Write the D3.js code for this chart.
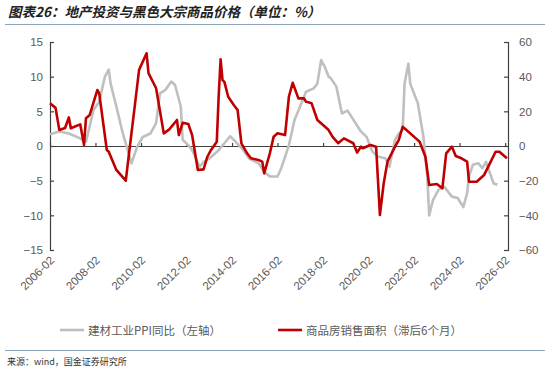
<!DOCTYPE html>
<html>
<head>
<meta charset="utf-8">
<script src="https://cdn.jsdelivr.net/npm/d3@7/dist/d3.min.js"></script>
<style>
  body { margin: 0; background: #fff; }
  svg { display: block; }
</style>
</head>
<body>
<svg id="chart" width="550" height="371"></svg>
<script>
// grey: 建材工业PPI同比 (left axis)
const ppiDates = ['2006-02','2006-07','2006-12','2007-06','2007-09','2008-01','2008-04','2008-07','2008-09','2008-10',
  '2009-01','2009-04','2009-07','2009-09','2009-12','2010-03','2010-07','2010-10','2010-12','2011-03',
  '2011-06','2011-08','2011-11','2011-12','2012-03','2012-05','2012-09','2012-11','2013-02','2013-07',
  '2013-10','2014-01','2014-04','2014-08','2014-11','2015-04','2015-07','2015-10','2016-02','2016-04',
  '2016-08','2016-11','2017-03','2017-05','2017-09','2017-11','2018-01','2018-03','2018-05','2018-06',
  '2018-09','2018-12','2019-03','2019-06','2019-10','2020-01','2020-04','2020-07','2020-11','2021-01',
  '2021-04','2021-06','2021-08','2021-09','2021-11','2021-12','2022-03','2022-04','2022-07','2022-09',
  '2022-10','2022-12','2023-03','2023-06','2023-10','2024-01','2024-04','2024-06','2024-07','2024-09',
  '2024-12','2025-02','2025-04','2025-06','2025-08','2025-10'];
const ppiValues = [1.7, 2.1, 1.8, 1.1, 0.6, 5.2, 6.4, 10.0, 11.0, 9.0,
  5.7, 2.3, -0.6, -2.5, -0.1, 1.3, 1.8, 3.3, 7.6, 8.1,
  9.3, 8.8, 5.7, 0.9, 0.1, -0.6, -3.0, -2.3, -1.8, -0.6,
  0.4, 1.4, 0.6, -0.6, -1.8, -2.5, -3.7, -4.4, -4.4, -3.2,
  0.1, 3.8, 6.4, 7.8, 8.3, 9.0, 12.4, 11.4, 10.0, 9.8,
  8.6, 4.7, 5.1, 3.8, 2.1, 1.3, -0.8, -1.5, -1.8, -3.0,
  0.9, 1.8, 2.3, 9.0, 11.9, 9.0, 6.9, 6.2, 1.3, -4.4,
  -10.0, -7.8, -6.3, -5.9, -7.3, -7.5, -8.8, -6.8, -4.4, -2.7,
  -2.5, -3.2, -2.3, -3.9, -5.4, -5.6];

// red: 商品房销售面积 (lagged 6 months, right axis)
const salesDates = ['2006-02','2006-05','2006-07','2006-10','2006-12','2007-01','2007-06','2007-08','2007-09','2007-11',
  '2008-03','2008-04','2008-08','2008-09','2009-01','2009-06','2009-11','2010-01','2010-05','2010-06',
  '2010-10','2011-02','2011-05','2011-09','2011-10','2011-12','2012-03','2012-05','2012-08','2012-11',
  '2013-01','2013-03','2013-06','2013-07','2013-08','2013-09','2013-10','2013-12','2014-03','2014-05',
  '2014-07','2014-10','2014-12','2015-04','2015-06','2015-07','2015-10','2015-12','2016-02','2016-06',
  '2016-08','2016-10','2017-01','2017-04','2017-05','2017-08','2017-11','2018-02','2018-05','2018-07',
  '2018-10','2019-01','2019-06','2019-08','2019-10','2019-11','2020-03','2020-06','2020-08','2020-10',
  '2020-12','2021-04','2021-06','2021-08','2021-10','2022-03','2022-05','2022-08','2022-10','2023-02',
  '2023-05','2023-07','2023-10','2023-12','2024-03','2024-06','2024-07','2024-11','2025-03','2025-06',
  '2025-09','2025-11','2026-03'];
const salesValues = [24.6, 22.0, 9.2, 10.4, 16.5, 10.2, 12.5, 0.6, 16.0, 17.9,
  32.3, 30.4, -2.3, -3.3, -13.8, -20.0, 25.6, 43.9, 53.5, 42.0,
  33.3, 7.3, 9.6, 15.0, 6.3, 13.4, 12.7, 6.3, -13.8, -13.5,
  -6.2, -2.3, 2.5, 28.4, 50.0, 38.0, 37.0, 28.4, 23.7, 20.8,
  1.5, -4.2, -7.1, -8.1, -9.0, -15.8, -4.2, 5.4, 7.3, 6.3,
  28.4, 36.5, 27.5, 27.5, 25.6, 24.6, 15.0, 12.1, 9.2, 5.4,
  1.6, 4.4, 1.6, -3.8, -0.4, -1.3, 0.6, -0.4, -39.8, -21.5,
  -9.0, -0.4, 3.5, 11.1, 9.2, 4.4, 2.5, -6.2, -22.5, -21.9,
  -24.4, -4.2, -0.4, -5.8, -7.1, -9.0, -20.6, -20.6, -16.7, -10.0,
  -3.3, -3.3, -7.1];

const leftTicks = [-15, -10, -5, 0, 5, 10, 15];
const rightTicks = [-60, -40, -20, 0, 20, 40, 60];
const xTickLabels = ['2006-02','2008-02','2010-02','2012-02','2014-02','2016-02',
  '2018-02','2020-02','2022-02','2024-02','2026-02'];

const parse = d3.timeParse('%Y-%m');
const fmtNum = d => d < 0 ? '\u2212' + Math.abs(d) : String(d);

const svg = d3.select('#chart');
const plot = { left: 50, right: 508, top: 42, bottom: 250 };

const x = d3.scaleTime()
  .domain([parse('2006-02'), new Date(2026, 2, 19)])
  .range([plot.left, plot.right]);
const yL = d3.scaleLinear().domain([-15, 15]).range([plot.bottom, plot.top]);
const yR = d3.scaleLinear().domain([-60, 60]).range([plot.bottom, plot.top]);

const axisColor = '#404040';
const labelColor = '#595959';

// title
svg.append('text')
  .attr('x', 8).attr('y', 17)
  .attr('font-family', 'Noto Sans CJK SC')
  .attr('font-size', 13.5)
  .attr('font-weight', 'bold')
  .attr('font-style', 'italic')
  .attr('fill', '#222')
  .text('图表26：地产投资与黑色大宗商品价格（单位：%）');

svg.append('line')
  .attr('x1', 5).attr('x2', 545).attr('y1', 24.5).attr('y2', 24.5)
  .attr('stroke', '#8fa7bd').attr('stroke-width', 1.2);

// left axis
const gL = svg.append('g')
  .attr('transform', `translate(${plot.left},0)`)
  .call(d3.axisLeft(yL).tickValues(leftTicks).tickSize(-4).tickSizeOuter(-4)
    .tickPadding(7).tickFormat(fmtNum));

// right axis
const gR = svg.append('g')
  .attr('transform', `translate(${plot.right},0)`)
  .call(d3.axisRight(yR).tickValues(rightTicks).tickSize(-4).tickSizeOuter(-4)
    .tickPadding(11).tickFormat(fmtNum));

[gL, gR].forEach(g => {
  g.selectAll('path, line').attr('stroke', axisColor).attr('stroke-width', 1.2);
  g.selectAll('text')
    .attr('font-family', 'Liberation Sans, Arial, sans-serif')
    .attr('font-size', 11.5)
    .attr('fill', labelColor);
});

// zero line with upward ticks
const xTicks = xTickLabels.map(parse);
const gZ = svg.append('g')
  .attr('transform', `translate(0,${yL(0)})`)
  .call(d3.axisBottom(x).tickValues(xTicks).tickSize(-3).tickSizeOuter(0).tickFormat(''));
gZ.selectAll('path, line').attr('stroke', axisColor).attr('stroke-width', 1.2);

// rotated date labels
svg.append('g')
  .selectAll('text')
  .data(xTickLabels)
  .join('text')
  .attr('transform', d => `translate(${x(parse(d)) + 5},${plot.bottom + 11}) rotate(-45)`)
  .attr('text-anchor', 'end')
  .attr('font-family', 'Liberation Sans, Arial, sans-serif')
  .attr('font-size', 11.5)
  .attr('fill', labelColor)
  .text(d => d);

// lines
const ppiData = ppiDates.map((d, i) => ({ date: parse(d), value: ppiValues[i] }));
const salesData = salesDates.map((d, i) => ({ date: parse(d), value: salesValues[i] }));

svg.append('path')
  .datum(ppiData)
  .attr('fill', 'none')
  .attr('stroke', '#bfbfbf')
  .attr('stroke-width', 2.6)
  .attr('stroke-linejoin', 'round')
  .attr('d', d3.line().x(d => x(d.date)).y(d => yL(d.value)));

svg.append('path')
  .datum(salesData)
  .attr('fill', 'none')
  .attr('stroke', '#c00000')
  .attr('stroke-width', 2.6)
  .attr('stroke-linejoin', 'round')
  .attr('d', d3.line().x(d => x(d.date)).y(d => yR(d.value)));

// legend
const legendItems = [
  { label: '建材工业PPI同比（左轴）', color: '#bfbfbf', x: 60 },
  { label: '商品房销售面积（滞后6个月）', color: '#c00000', x: 278 }
];
const lg = svg.append('g').selectAll('g').data(legendItems).join('g')
  .attr('transform', d => `translate(${d.x},330)`);
lg.append('line')
  .attr('x1', 0).attr('x2', 24)
  .attr('stroke', d => d.color).attr('stroke-width', 2.6);
lg.append('text')
  .attr('x', 28).attr('y', 4.5)
  .attr('font-family', 'Noto Sans CJK SC')
  .attr('font-size', 11.5)
  .attr('fill', labelColor)
  .text(d => d.label);

// footer
svg.append('line')
  .attr('x1', 5).attr('x2', 545).attr('y1', 350.5).attr('y2', 350.5)
  .attr('stroke', '#8fa7bd').attr('stroke-width', 1.2);
svg.append('text')
  .attr('x', 7).attr('y', 365)
  .attr('font-family', 'Noto Sans CJK SC')
  .attr('font-size', 9)
  .attr('fill', '#333')
  .text('来源：wind，国金证券研究所');
</script>
</body>
</html>
